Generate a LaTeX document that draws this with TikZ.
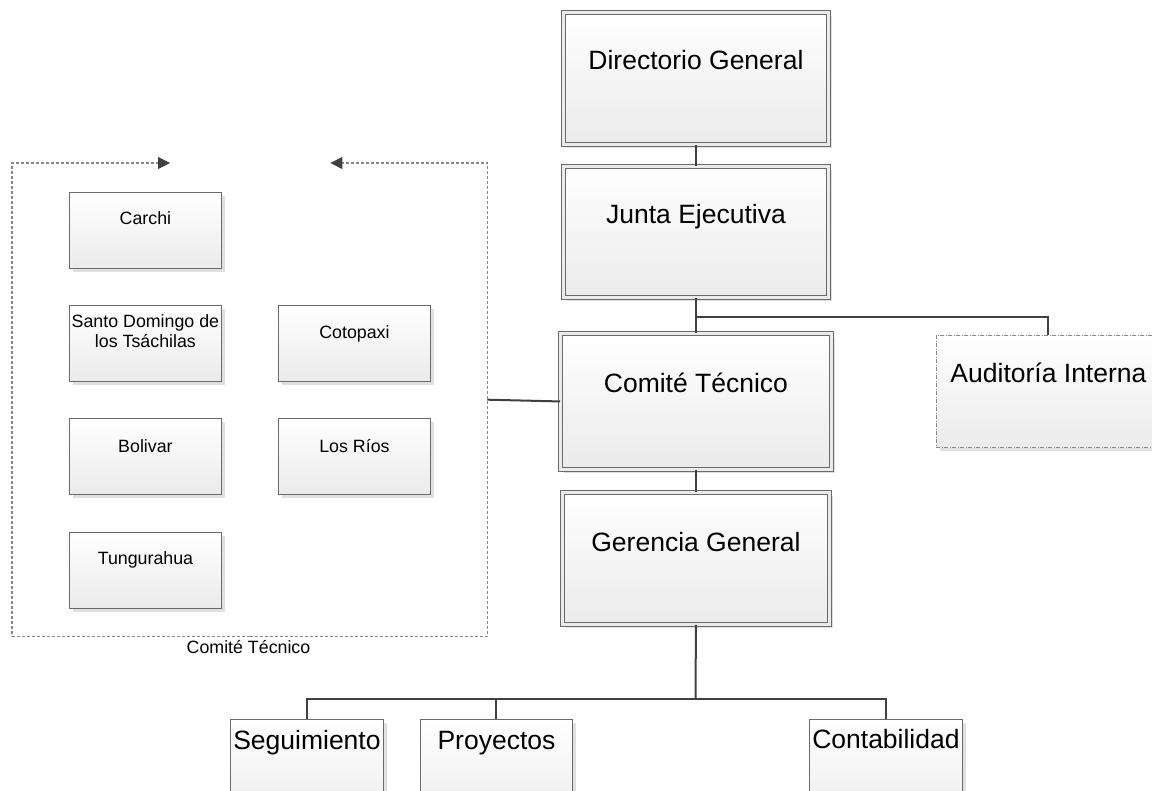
\documentclass[tikz,border=0pt]{standalone}
\usepackage{fontspec}
\setmainfont{Liberation Sans}
\usetikzlibrary{shadows,arrows.meta,calc}
\definecolor{linec}{HTML}{404040}
\definecolor{boxb}{HTML}{6A6A6A}
\definecolor{dashc}{HTML}{888888}
\tikzset{
  basebox/.style={rectangle, inner sep=0pt, anchor=north west, draw=boxb, line width=0.9pt,
    top color=white, bottom color=black!8,
    drop shadow={shadow xshift=4pt, shadow yshift=-4pt, fill=black!12, opacity=1}},
  bigbox/.style={basebox, double=black!8, double distance=2.6pt, line width=0.9pt},
  smallbox/.style={basebox, minimum width=152pt, minimum height=76pt},
  dashbox/.style={basebox, dash pattern=on 4pt off 1.5pt on 1pt off 1.5pt, draw=dashc},
  bigtxt/.style={inner sep=0pt, anchor=base, font=\fontsize{26.5}{30}\selectfont},
  smalltxt/.style={inner sep=0pt, anchor=base, font=\fontsize{17.8}{20.5}\selectfont, align=center},
  conn/.style={draw=linec, line width=2pt},
  contline/.style={draw=dashc, line width=1.1pt, dash pattern=on 3pt off 2pt},
  tip/.style={-{Triangle[length=12pt,width=12pt,fill=linec,color=linec]}}
}
\begin{document}
\begin{tikzpicture}[x=1pt,y=-1pt]
\useasboundingbox (0,0) rectangle (1152,791);
\clip (0,0) rectangle (1152,791);
\fill[white] (0,0) rectangle (1152,791);

% main boxes
\node[bigbox, minimum width=265pt, minimum height=132pt] (dg) at (563,12) {};
\node[bigbox, minimum width=265pt, minimum height=131pt] (je) at (563,166) {};
\node[bigbox, minimum width=271pt, minimum height=136pt] (ct) at (560,333) {};
\node[bigbox, minimum width=267pt, minimum height=132pt] (gg) at (562,492) {};
\node[dashbox, minimum width=224pt, minimum height=112pt] (ai) at (936,335) {};

\node[bigtxt] (dgt) at ([yshift=-58pt]dg.north) {Directorio General};
\node[bigtxt] (jet) at ([yshift=-58pt]je.north) {Junta Ejecutiva};
\node[bigtxt] (ctt) at ([yshift=-60pt]ct.north) {Comité Técnico};
\node[bigtxt] (ggt) at ([yshift=-59pt]gg.north) {Gerencia General};
\node[bigtxt] (ait) at ([yshift=-48pt]ai.north) {Auditoría Interna};

% bottom boxes
\node[basebox, minimum width=153pt, minimum height=110pt] (se) at (230,719) {};
\node[basebox, minimum width=152pt, minimum height=110pt] (pr) at (420,719) {};
\node[basebox, minimum width=153pt, minimum height=110pt] (co) at (809,719) {};
\node[bigtxt] (set) at ([yshift=-30pt]se.north) {Seguimiento};
\node[bigtxt] (prt) at ([yshift=-30pt]pr.north) {Proyectos};
\node[bigtxt] (cot) at ([yshift=-29pt]co.north) {Contabilidad};

% container
\node[rectangle, inner sep=0pt, anchor=north west, minimum width=475pt, minimum height=473pt] (cont) at (12,163) {};
\draw[contline, tip] (cont.south) -| (cont.north west) -- ++(158,0);
\draw[contline, tip] (cont.south) -| (cont.north east) -- ++(-157,0);
\node[smalltxt] (contt) at (248.5,653) {Comité Técnico};

% small boxes
\node[smallbox] (ca) at (69,192) {};
\node[smallbox] (sd) at (69,305) {};
\node[smallbox] (cx) at (278,305) {};
\node[smallbox] (bo) at (69,418) {};
\node[smallbox] (lr) at (278,418) {};
\node[smallbox] (tu) at (69,532) {};
\node[smalltxt] (cat) at ([yshift=-33pt]ca.north) {Carchi};
\node[smalltxt] (sdt1) at ([yshift=-23pt]sd.north) {Santo Domingo de};
\node[smalltxt] (sdt2) at ([yshift=-43pt]sd.north) {los Tsáchilas};
\node[smalltxt] (cxt) at ([yshift=-34pt]cx.north) {Cotopaxi};
\node[smalltxt] (bot) at ([yshift=-35pt]bo.north) {Bolivar};
\node[smalltxt] (lrt) at ([yshift=-35pt]lr.north) {Los Ríos};
\node[smalltxt] (tut) at ([yshift=-33pt]tu.north) {Tungurahua};

% connectors
\coordinate (br) at (695.5,317);
\coordinate (bus) at (695.5,699);
\draw[conn] (dg.south) -- (je.north);
\draw[conn] (je.south) -- (ct.north);
\draw[conn] (br) -| (ai.north);
\draw[conn] (cont.east) -- (ct.west);
\draw[conn] (ct.south) -- (gg.south |- gg.north);
\draw[conn] (gg.south) -- (bus);
\draw[conn] (se.north) |- (bus);
\draw[conn] (pr.north) -- (pr.north |- bus);
\draw[conn] (bus) -| (co.north);
\end{tikzpicture}
\end{document}
